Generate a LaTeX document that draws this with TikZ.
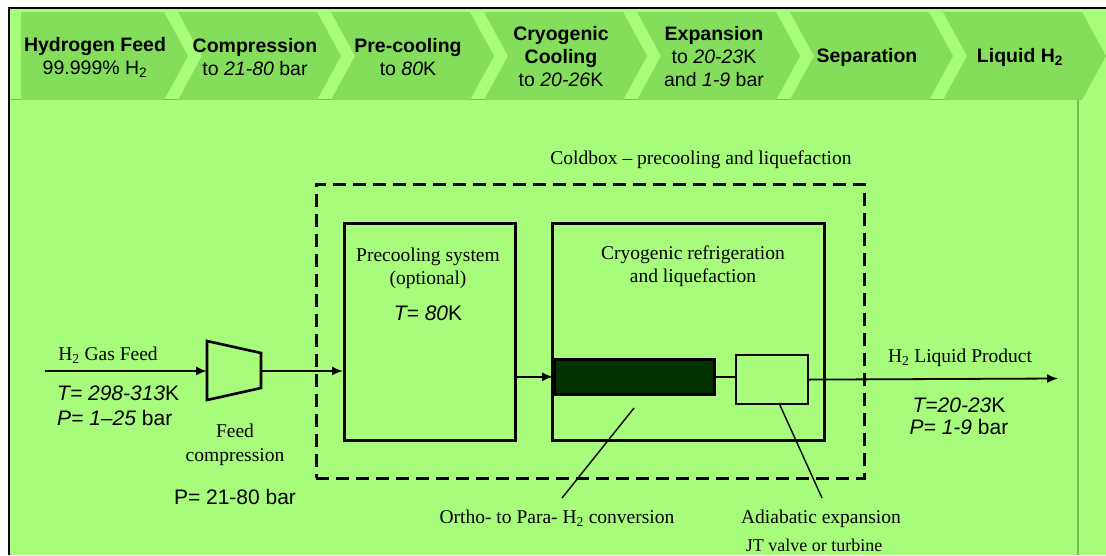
\documentclass[tikz,border=0pt]{standalone}
\usepackage{fontspec}
\setmainfont{Liberation Serif}
\setsansfont{Liberation Sans}
\usetikzlibrary{arrows.meta}
\definecolor{bggreen}{RGB}{168,252,124}
\definecolor{chevgreen}{RGB}{132,222,92}
\definecolor{edgegreen}{RGB}{112,196,78}
\definecolor{bardark}{RGB}{0,51,0}
\newcommand{\Htwo}{H\textsubscript{2}}

\tikzset{
  steplabel/.style={font=\sffamily\fontsize{19.5}{23}\selectfont, align=center, inner sep=0pt},
  serif/.style={font=\fontsize{19.5}{23}\selectfont, align=center, inner sep=0pt},
  sans/.style={font=\sffamily\fontsize{21}{25}\selectfont, align=center, inner sep=0pt},
  unitbox/.style={draw, line width=2.6pt, inner sep=0pt, anchor=north west},
  flow/.style={line width=1.8pt, -{Latex[length=11pt,width=9pt]}},
  leader/.style={line width=1.4pt},
}

\begin{document}
\begin{tikzpicture}[x=1pt,y=-1pt]
  \useasboundingbox (0,0) rectangle (1106,555);
  % Background and frame
  \fill[bggreen] (9,8) rectangle (1106,555);
  \draw[edgegreen, line width=1pt] (10,99.5) -- (1078,99.5);
  \draw[edgegreen, line width=1.5pt] (1078,100) -- (1078,555);
  \draw[line width=2.6pt] (9,555) -- (9,8) -- (1106,8);

  % Process steps (header)
  \foreach \i in {1,...,7}{
    \pgfmathsetmacro{\R}{164+153*(\i-1)}
    \pgfmathsetmacro{\L}{\i==1 ? 21 : \R-139}
    \pgfmathsetmacro{\N}{\i==1 ? \L : \L+24}
    \fill[chevgreen] (\L,12) -- (\R,12) -- (\R+24,56) -- (\R,100) -- (\L,100) -- (\N,56) -- cycle;
  }
  \node[steplabel] (h1) at (95,57) {\textbf{Hydrogen Feed}\\99.999\% \Htwo};
  \node[steplabel] (h2) at (255,57) {\textbf{Compression}\\to \textit{21-80} bar};
  \node[steplabel] (h3) at (408,57) {\textbf{Pre-cooling}\\to \textit{80}K};
  \node[steplabel] (h4) at (561,57) {\textbf{Cryogenic}\\\textbf{Cooling}\\to \textit{20-26}K};
  \node[steplabel] (h5) at (714,57) {\textbf{Expansion}\\to \textit{20-23}K\\and \textit{1-9} bar};
  \node[steplabel] (h6) at (867,57) {\textbf{Separation}};
  \node[steplabel] (h7) at (1020,57) {\textbf{Liquid \Htwo}};

  % Coldbox and units
  \node[unitbox, dashed, dash pattern=on 13pt off 7pt, minimum width=548pt, minimum height=294pt] (cold) at (315,183) {};
  \node[serif] (coldlbl) at (701,160) {Coldbox -- precooling and liquefaction};
  \node[unitbox, minimum width=171pt, minimum height=217pt] (pre) at (343,222) {};
  \node[unitbox, minimum width=272pt, minimum height=217pt] (cryo) at (551,222) {};
  \node[unitbox, fill=bardark, minimum width=160pt, minimum height=35pt] (bar) at (553,358) {};
  \node[unitbox, line width=2.2pt, minimum width=72pt, minimum height=49pt] (jt) at (735,354) {};
  \node[serif] (prelbl) at (428,268.5) {Precooling system\\(optional)};
  \node[sans] (preT) at (428,313) {\textit{T= 80}K};
  \node[serif] (cryolbl) at (693,266) {Cryogenic refrigeration\\and liquefaction};

  % Feed compressor
  \draw[line width=2.6pt, line join=miter] (207,341) -- (261,353) -- (261,388) -- (207,400) -- cycle;
  \coordinate (cin) at (207,371);
  \coordinate (cout) at (261,371);
  \coordinate (feed) at (45,371);
  \coordinate (prodend) at (1058,378.5);

  % Streams
  \draw[flow] (feed) -- (cin);
  \draw[flow] (cout) -- (cout -| pre.west);
  \draw[flow] (bar.west -| pre.east) -- (bar.west);
  \draw[line width=1.8pt] (bar.east) -- (bar.east -| jt.west);
  \draw[flow] (jt.east) -- (prodend);

  % Stream labels
  \node[serif] (gaslbl) at (108,355) {\Htwo\ Gas Feed};
  \node[sans, align=left, anchor=west] (gasTP) at (57,405.5) {\textit{T= 298-313}K\\\textit{P= 1--25} bar};
  \node[serif, font=\fontsize{19.5}{24}\selectfont] (complbl) at (235,445) {Feed\\compression};
  \node[sans] (compP) at (235,497) {P= 21-80 bar};
  \node[serif] (prodlbl) at (960,358) {\Htwo\ Liquid Product};
  \node[sans, font=\sffamily\fontsize{21}{22}\selectfont] (prodTP) at (959,416) {\textit{T=20-23}K\\\textit{P= 1-9} bar};

  % Callouts
  \coordinate (orthoA) at (634,408);
  \coordinate (orthoB) at (562,498);
  \coordinate (jtA) at (779,403);
  \coordinate (jtB) at (822,498);
  \draw[leader] (orthoA) -- (orthoB);
  \draw[leader] (jtA) -- (jtB);
  \node[serif] (ortholbl) at (557,518) {Ortho- to Para- \Htwo\ conversion};
  \node[serif] (adialbl) at (821,519) {Adiabatic expansion};
  \node[serif, font=\fontsize{18}{20}\selectfont] (jtlbl) at (814,545) {JT valve or turbine};
\end{tikzpicture}
\end{document}
